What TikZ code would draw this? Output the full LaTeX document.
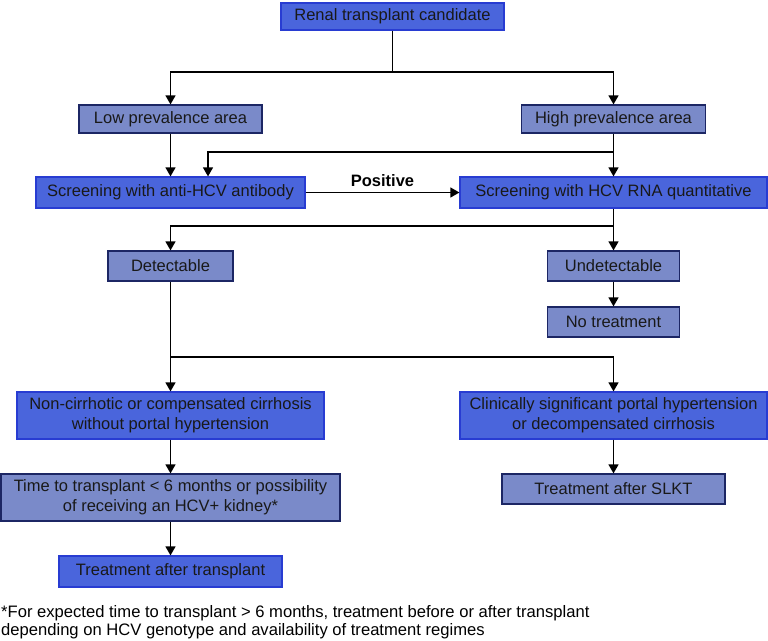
\documentclass[tikz,border=0pt]{standalone}
\usepackage{fontspec}
\setmainfont{Liberation Sans}
\usetikzlibrary{arrows.meta}
\definecolor{brightfill}{RGB}{74,101,220}
\definecolor{brightdraw}{RGB}{40,60,210}
\definecolor{mutedfill}{RGB}{122,138,201}
\definecolor{muteddraw}{RGB}{28,38,100}
\tikzset{
  bx/.style={rectangle, inner sep=0pt, align=center, line width=1.2pt,
    font=\fontsize{16.5}{20}\selectfont, text=black!90},
  bright/.style={bx, fill=brightfill, draw=brightdraw},
  muted/.style={bx, fill=mutedfill, draw=muteddraw},
  arr/.style={line width=1.3pt, -{Triangle[length=9pt,width=10pt]}},
  ln/.style={line width=1.3pt},
}
\begin{document}
\begin{tikzpicture}[x=1pt,y=-1pt]
\useasboundingbox (0,0) rectangle (768,640);
\node[bright, minimum width=223pt, minimum height=27pt] (cand) at (392.5,16.5) {Renal transplant candidate};
\node[muted, minimum width=183pt, minimum height=28pt] (low) at (170.5,119) {Low prevalence area};
\node[muted, minimum width=184pt, minimum height=28pt] (high) at (613.5,119) {High prevalence area};
\node[bright, minimum width=269pt, minimum height=31pt] (anti) at (170.5,192.5) {Screening with anti-HCV antibody};
\node[bright, minimum width=307pt, minimum height=31pt] (rna) at (613.5,192.5) {Screening with HCV RNA quantitative};
\node[muted, minimum width=125pt, minimum height=30pt] (det) at (170.5,266) {Detectable};
\node[muted, minimum width=132pt, minimum height=30pt] (undet) at (613.5,266) {Undetectable};
\node[muted, minimum width=132pt, minimum height=30pt] (notr) at (613.5,322) {No treatment};
\node[bright, minimum width=307pt, minimum height=47pt] (noncirr) at (170.5,415.5) {Non-cirrhotic or compensated cirrhosis\\without portal hypertension};
\node[bright, minimum width=307pt, minimum height=47pt] (clin) at (613.5,415.5) {Clinically significant portal hypertension\\or decompensated cirrhosis};
\node[muted, minimum width=339pt, minimum height=47pt] (time) at (170.5,497.5) {Time to transplant < 6 months or possibility\\of receiving an HCV+ kidney*};
\node[bright, minimum width=223pt, minimum height=31pt] (tat) at (170.5,571.5) {Treatment after transplant};
\node[muted, minimum width=223pt, minimum height=30pt] (slkt) at (613.5,489) {Treatment after SLKT};
\node[anchor=north west, align=left, inner sep=0pt, font=\fontsize{16.6}{18}\selectfont] (foot) at (1,605)
  {*For expected time to transplant > 6 months, treatment before or after transplant\\depending on HCV genotype and availability of treatment regimes};
% connectors
\coordinate (j1) at (392.5,72);
\draw[ln] (cand) -- (j1);
\draw[arr] (j1) -| (low);
\draw[arr] (j1) -| (high);
\draw[arr] (low) -- (anti);
\draw[arr] (high) -- (rna);
\coordinate (j2) at (613.5,152);
\coordinate (a2) at ([xshift=37.5pt]anti.north);
\draw[arr] (j2) -| (a2);
\draw[arr] (anti) -- node[above=2pt, font=\fontsize{16.5}{20}\selectfont\bfseries] (pos) {Positive} (rna);
\coordinate (j3) at (613.5,226);
\draw[arr] (rna) -- (undet);
\draw[arr] (j3) -| (det);
\draw[arr] (undet) -- (notr);
\coordinate (j4) at (170.5,357);
\draw[ln] (det) -- (j4);
\draw[arr] (j4) -- (noncirr);
\draw[arr] (j4) -| (clin);
\draw[arr] (noncirr) -- (time);
\draw[arr] (time) -- (tat);
\draw[arr] (clin) -- (slkt);
\end{tikzpicture}
\end{document}
